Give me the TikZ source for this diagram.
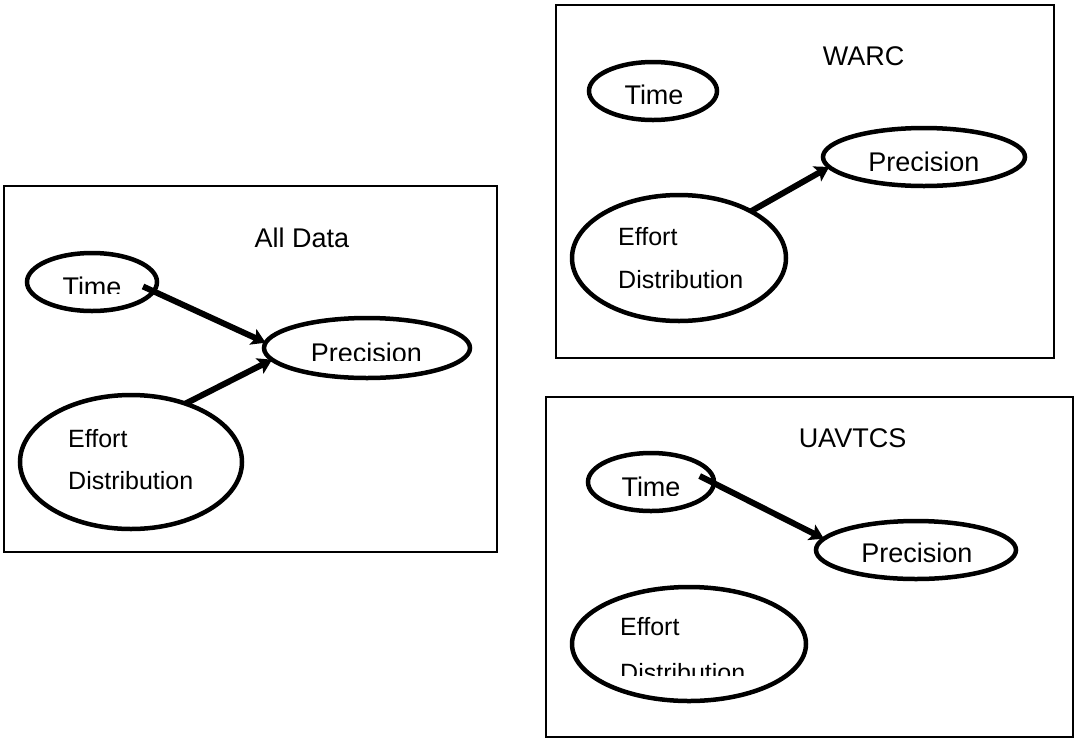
\documentclass[tikz,border=0pt]{standalone}
\usepackage{fontspec}
\setmainfont{Liberation Sans}
\usetikzlibrary{shapes.geometric,arrows.meta,calc}

\tikzset{
  oval/.style={draw,ellipse,line width=4.5pt,inner sep=0pt,outer sep=0pt},
  title/.style={font=\fontsize{27}{32}\selectfont,inner sep=0pt,anchor=base},
  lbl/.style={font=\fontsize{27}{32}\selectfont,inner sep=0pt,anchor=base},
  effort/.style={font=\fontsize{25}{30}\selectfont,inner sep=0pt,anchor=base west},
  link/.style={line width=6pt,-{Stealth[length=14pt,width=17pt,inset=3pt]}}
}

% label whose lower part is cut off at a given height
% #1 style, #2 name, #3 x, #4 baseline, #5 cut line, #6 text
\newcommand{\cutlabel}[6]{%
  \begin{scope}
    \clip (#3-200,#4-60) rectangle (#3+200,#5);
    \node[#1] (#2) at (#3,#4) {#6};
  \end{scope}}

\begin{document}
\begin{tikzpicture}[x=1pt,y=-1pt]
\useasboundingbox (0,0) rectangle (1080,740);

% all data
\draw[line width=1.2pt] (4,186) rectangle (497,552);
\node[title] (allT) at (302,247) {All Data};
\node[oval,minimum width=130,minimum height=58] (timeA) at (92,282) {};
\node[oval,minimum width=206,minimum height=60] (precA) at (367,348) {};
\node[oval,minimum width=222,minimum height=134] (effA) at (131,462) {};
\cutlabel{lbl}{timeAtxt}{92}{296.5}{293}{Time}
\cutlabel{lbl}{precAtxt}{366.5}{362}{360}{Precision}
\node[effort] (effAtxt) at (68,447) {Effort};
\node[effort] (distAtxt) at (68,489) {Distribution};
\draw[link] ($(timeA.center)!0.8!(timeA.-5)$) -- (precA.177);
\draw[link] (effA.47) -- (precA.187);

% WARC
\draw[line width=1.2pt] (556,5) rectangle (1054,358);
\node[title] (warcT) at (863.5,65) {WARC};
\node[oval,minimum width=128,minimum height=58] (timeB) at (653,91) {};
\node[oval,minimum width=202,minimum height=58] (precB) at (924,157) {};
\node[oval,minimum width=214,minimum height=126] (effB) at (679,258) {};
\cutlabel{lbl}{timeBtxt}{654}{104}{103}{Time}
\cutlabel{lbl}{precBtxt}{924}{171}{170}{Precision}
\node[effort] (effBtxt) at (618,245) {Effort};
\node[effort] (distBtxt) at (618,288) {Distribution};
\draw[link] (effB.33) -- (precB.-174);

% UAVTCS
\draw[line width=1.2pt] (546,397) rectangle (1073,737);
\node[title] (uavT) at (852.5,447) {UAVTCS};
\node[oval,minimum width=126,minimum height=58] (timeC) at (651,482) {};
\node[oval,minimum width=200,minimum height=58] (precC) at (916,550) {};
\node[oval,minimum width=234,minimum height=114] (effC) at (689,644) {};
\cutlabel{lbl}{timeCtxt}{651}{496}{495}{Time}
\cutlabel{lbl}{precCtxt}{917}{562}{562}{Precision}
\node[effort] (effCtxt) at (620,635) {Effort};
\cutlabel{effort}{distCtxt}{620}{681}{675}{Distribution}
\draw[link] ($(timeC.center)!0.8!(timeC.7)$) -- (precC.173);

\end{tikzpicture}
\end{document}
